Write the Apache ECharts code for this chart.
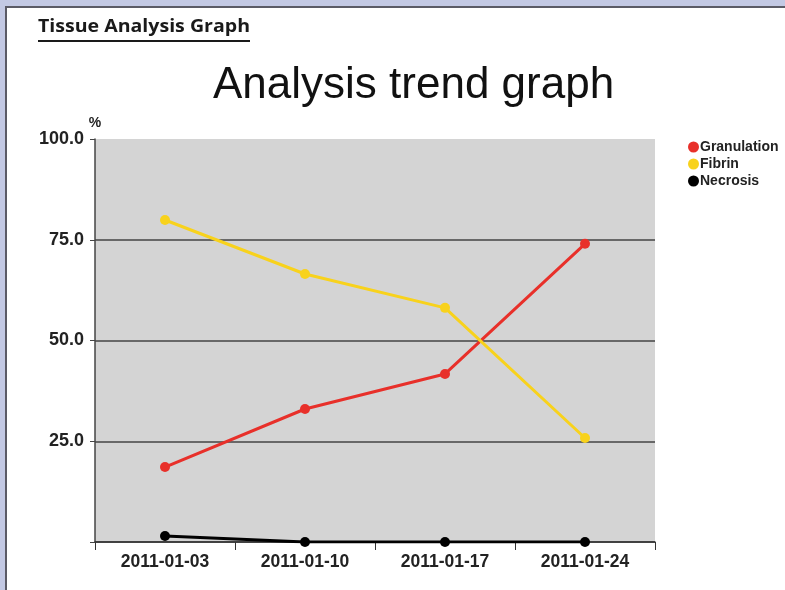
<!DOCTYPE html>
<html>
<head>
<meta charset="utf-8">
<script src="https://cdn.jsdelivr.net/npm/echarts@6/dist/echarts.min.js"></script>
<style>
    html, body { margin: 0; padding: 0; }
    body { width: 785px; height: 590px; background: #c3c9e4; position: relative; overflow: hidden; }
    #frame {
        position: absolute; left: 5px; top: 6px; right: 0; bottom: 0;
        background: #ffffff;
        border-left: 2px solid #5b5b66;
        border-top: 2px solid #5b5b66;
    }
    #chart { position: absolute; left: 0; top: 0; width: 785px; height: 590px; }
</style>
</head>
<body>
<div id="frame"></div>
<div id="chart"></div>
<script>
var dates = ['2011-01-03', '2011-01-10', '2011-01-17', '2011-01-24'];
var granulation = [18.6, 33.0, 41.7, 74.0];
var fibrin = [79.9, 66.5, 58.1, 25.8];
var necrosis = [1.5, 0, 0, 0];
var yTicks = [0, 25, 50, 75, 100];

function initChart() {
    var chart = echarts.init(document.getElementById('chart'));

    var option = {
        animation: false,
        backgroundColor: 'transparent',
        title: {
            text: 'Analysis trend graph',
            left: 208,
            top: 59,
            textStyle: {
                fontFamily: 'Liberation Sans',
                fontSize: 44,
                fontWeight: 'normal',
                color: '#111111'
            }
        },
        graphic: [{
            type: 'text',
            x: 38,
            y: 19,
            scaleX: 1.15,
            style: {
                text: 'Tissue Analysis Graph',
                fontFamily: 'Open Sans',
                fontWeight: 'bold',
                fontSize: 17,
                fill: '#1a1a1a'
            }
        }, {
            type: 'rect',
            left: 38,
            top: 40,
            shape: { width: 212, height: 2 },
            style: { fill: '#1a1a1a' }
        }],
        legend: {
            orient: 'vertical',
            left: 683,
            top: 135,
            icon: 'circle',
            itemWidth: 11,
            itemHeight: 11,
            itemGap: 3,
            textStyle: {
                fontFamily: 'Liberation Sans',
                fontWeight: 'bold',
                fontSize: 14,
                color: '#222222',
                padding: [0, 0, 0, -4]
            },
            data: ['Granulation', 'Fibrin', 'Necrosis']
        },
        grid: {
            left: 95,
            right: 130,
            top: 139,
            bottom: 48,
            show: true,
            backgroundColor: '#d4d4d4',
            borderWidth: 0
        },
        xAxis: {
            type: 'category',
            data: dates,
            boundaryGap: true,
            axisLine: { lineStyle: { color: '#333333', width: 1.5 } },
            axisTick: { show: true, length: 8, lineStyle: { color: '#333333' } },
            axisLabel: {
                margin: 11,
                fontFamily: 'Liberation Sans',
                fontWeight: 'bold',
                fontSize: 17.5,
                color: '#222222'
            }
        },
        yAxis: {
            type: 'value',
            min: yTicks[0],
            max: yTicks[yTicks.length - 1],
            interval: 25,
            name: '%',
            nameLocation: 'end',
            nameGap: 6,
            nameTextStyle: {
                fontFamily: 'Liberation Sans',
                fontWeight: 'bold',
                fontSize: 14,
                color: '#222222'
            },
            axisLine: { show: true, lineStyle: { color: '#444444', width: 1.5 } },
            axisTick: { show: true, length: 5, lineStyle: { color: '#444444' } },
            axisLabel: {
                margin: 11,
                fontFamily: 'Liberation Sans',
                fontWeight: 'bold',
                fontSize: 18,
                color: '#222222',
                formatter: function (v) {
                    return v === 0 ? '' : v.toFixed(1);
                }
            },
            splitLine: {
                show: true,
                lineStyle: {
                    color: ['#444444', '#444444', '#444444', '#444444', 'rgba(0,0,0,0)'],
                    width: 1.5
                }
            }
        },
        series: [
            genSeries('Granulation', granulation, '#e8302a'),
            genSeries('Fibrin', fibrin, '#f8d21c'),
            genSeries('Necrosis', necrosis, '#000000')
        ]
    };
    chart.setOption(option);
}

function genSeries(name, data, color) {
    return {
        name: name,
        type: 'line',
        data: data,
        symbol: 'circle',
        symbolSize: 10,
        color: color,
        lineStyle: { width: 3, color: color },
        itemStyle: { color: color }
    };
}

initChart();
</script>
</body>
</html>
